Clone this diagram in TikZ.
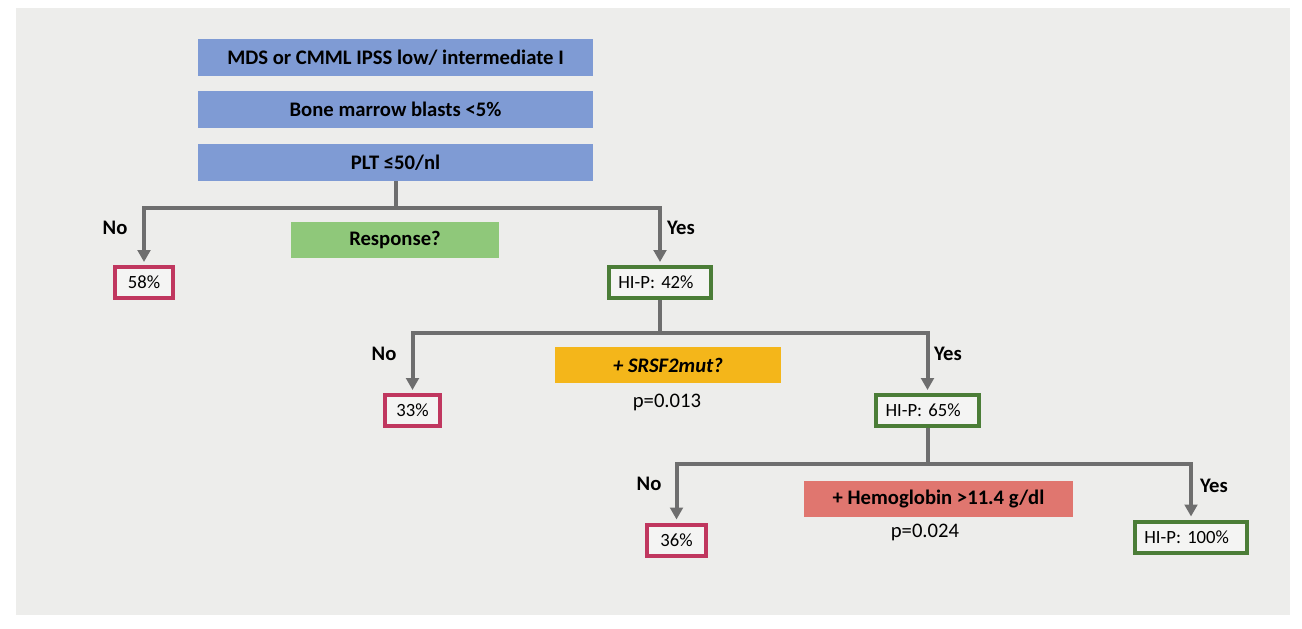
\documentclass[tikz,border=0pt]{standalone}
\usepackage{fontspec}
\setmainfont{Carlito}
\usetikzlibrary{arrows.meta,positioning}

\definecolor{bgGray}{HTML}{EDEDEB}
\definecolor{blueFill}{HTML}{7F9BD4}
\definecolor{greenFill}{HTML}{8FC87A}
\definecolor{orangeFill}{HTML}{F4B61A}
\definecolor{redFill}{HTML}{E0766F}
\definecolor{noEdge}{HTML}{C0375F}
\definecolor{yesEdge}{HTML}{4B7D37}
\definecolor{lineGray}{HTML}{6E6E6E}

\begin{document}
\begin{tikzpicture}
[
  x=0.75pt, y=-0.75pt,
  crit/.style={fill=#1, minimum height=27.5pt, inner sep=0pt,
    font=\fontsize{15.5}{18}\selectfont\bfseries},
  nobox/.style={draw=noEdge, line width=3pt, fill=white!40!bgGray,
    minimum height=23.25pt, inner sep=0pt, font=\fontsize{14}{16}\selectfont},
  hip/.style={draw=yesEdge, line width=3pt, fill=white!40!bgGray,
    minimum height=23.25pt, inner xsep=7pt, inner ysep=0pt,
    text width=#1, align=left, font=\fontsize{14}{16}\selectfont},
  answer/.style={font=\fontsize{15.5}{18}\selectfont\bfseries},
  pval/.style={font=\fontsize{15.5}{18}\selectfont},
  stem/.style={draw=lineGray, line width=3pt},
  branch/.style={stem, -{Triangle[length=9pt,width=9.5pt]}, shorten >=2.25pt}
]
 \useasboundingbox (0,0) rectangle (1302,628);
 \fill[bgGray] (16,8) rectangle (1290,615);

 % criteria
 \node[crit=blueFill, minimum width=296.25pt] (mds) at (395.5,57.5) {MDS or CMML IPSS low/ intermediate I};
 \node[crit=blueFill, minimum width=296.25pt] (blasts) at (395.5,109.5) {Bone marrow blasts <5\%};
 \node[crit=blueFill, minimum width=296.25pt] (plt) at (395.5,162.5) {PLT ≤50/nl};
 \node[crit=greenFill, minimum width=156pt] (resp) at (395,240) {Response?};
 \node[crit=orangeFill, minimum width=169.5pt] (srsf) at (668,365) {\itshape + SRSF2mut?};
 \node[crit=redFill, minimum width=201.75pt] (hb) at (938.5,499) {+ Hemoglobin >11.4 g/dl};

 % outcomes
 \node[nobox, minimum width=43.5pt] (n58) at (144,282.5) {58\%};
 \node[hip=62.5pt] (hip42) at (660,282.5) {HI-P: 42\%};
 \node[nobox, minimum width=41.25pt] (n33) at (412.5,410.5) {33\%};
 \node[hip=63pt] (hip65) at (927.5,410.5) {HI-P: 65\%};
 \node[nobox, minimum width=44.25pt] (n36) at (676.5,540) {36\%};
 \node[hip=70pt] (hip100) at (1191,537) {HI-P: 100\%};

 \node[pval] (p1) at (667,402) {p=0.013};
 \node[pval] (p2) at (925,532) {p=0.024};

 \node[answer] (no1) at (115,228) {No};
 \node[answer] (yes1) at (681,228) {Yes};
 \node[answer] (no2) at (384,354) {No};
 \node[answer] (yes2) at (948,354) {Yes};
 \node[answer] (no3) at (649,484) {No};
 \node[answer] (yes3) at (1214,486) {Yes};

 % tree
 \coordinate (j1) at (395.5,208);
 \coordinate (j2) at (660,333);
 \coordinate (j3) at (927.5,464);

 \draw[stem] (plt) -- (j1);
 \draw[branch] (j1) -| (n58);
 \draw[branch] (j1) -| (hip42);
 \draw[stem] (hip42) -- (j2);
 \draw[branch] (j2) -| (n33);
 \draw[branch] (j2) -| (hip65);
 \draw[stem] (hip65) -- (j3);
 \draw[branch] (j3) -| (n36);
 \draw[branch] (j3) -| (hip100);
\end{tikzpicture}
\end{document}
